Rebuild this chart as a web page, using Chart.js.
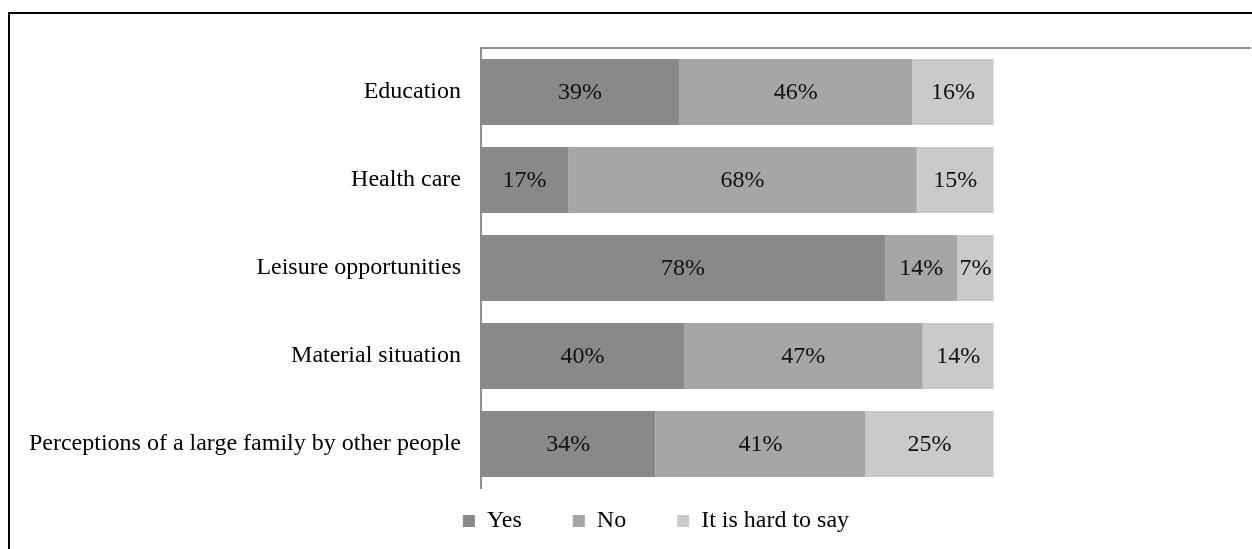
<!DOCTYPE html>
<html>
<head>
<meta charset="utf-8">
<script src="https://cdn.jsdelivr.net/npm/chart.js@4"></script>
<style>
  html, body { margin: 0; padding: 0; background: #fff; overflow: hidden; }
  #wrap { position: relative; width: 1252px; height: 549px; }
  #frame { position: absolute; left: 8px; top: 12px; width: 1300px; height: 600px;
           border: 2px solid #000; box-sizing: border-box; }
  canvas { position: absolute; left: 0; top: 0; }
</style>
</head>
<body>
<div id="wrap">
  <div id="frame"></div>
  <canvas id="chart" width="1252" height="549"></canvas>
</div>
<script>
  const categories = [
    'Education',
    'Health care',
    'Leisure opportunities',
    'Material situation',
    'Perceptions of a large family by other people'
  ];
  const yesValues = [39, 17, 78, 40, 34];
  const noValues = [46, 68, 14, 47, 41];
  const hardValues = [16, 15, 7, 14, 25];
  const seriesNames = ['Yes', 'No', 'It is hard to say'];

  // 100% stacked: share of each row total, labels keep the printed numbers
  const totals = categories.map((c, i) => yesValues[i] + noValues[i] + hardValues[i]);
  const share = arr => arr.map((v, i) => v / totals[i] * 100);

  const font = "'Liberation Serif', 'Times New Roman', serif";

  const barLabels = {
    id: 'barLabels',
    afterDatasetsDraw(chart) {
      const ctx = chart.ctx;
      ctx.save();
      ctx.font = '24px ' + font;
      ctx.fillStyle = '#111';
      ctx.textAlign = 'center';
      ctx.textBaseline = 'middle';
      chart.data.datasets.forEach((ds, di) => {
        const meta = chart.getDatasetMeta(di);
        meta.data.forEach((bar, i) => {
          const cx = (bar.x + bar.base) / 2;
          ctx.fillText(ds.raw[i] + '%', cx, bar.y + 1);
        });
      });
      ctx.restore();
    }
  };

  new Chart(document.getElementById('chart'), {
    type: 'bar',
    data: {
      labels: categories,
      datasets: [
        { label: seriesNames[0], data: share(yesValues), raw: yesValues, backgroundColor: '#898989' },
        { label: seriesNames[1], data: share(noValues), raw: noValues, backgroundColor: '#a6a6a6' },
        { label: seriesNames[2], data: share(hardValues), raw: hardValues, backgroundColor: '#cacaca' }
      ]
    },
    options: {
      indexAxis: 'y',
      responsive: false,
      animation: false,
      barPercentage: 1,
      categoryPercentage: 0.75,
      layout: { padding: { left: 62, right: 2, top: 48, bottom: 6 } },
      plugins: {
        legend: {
          position: 'bottom',
          labels: {
            font: { family: font, size: 24 },
            color: '#000',
            boxWidth: 12,
            boxHeight: 12,
            padding: 21,
            generateLabels(chart) {
              const items = Chart.defaults.plugins.legend.labels.generateLabels(chart);
              // extra gap after the first two entries
              items.forEach((it, i) => {
                if (i < items.length - 1) it.text += '\u00a0'.repeat(5);
              });
              return items;
            }
          }
        },
        tooltip: { enabled: false }
      },
      scales: {
        x: {
          stacked: true,
          position: 'top',
          min: 0,
          max: 150,
          grid: { display: false, drawTicks: false },
          border: { display: true, color: '#8c8c8c', width: 2 },
          ticks: { display: false }
        },
        y: {
          stacked: true,
          grid: { display: false, drawTicks: false },
          border: { display: true, color: '#8c8c8c', width: 2 },
          ticks: { font: { family: font, size: 24 }, color: '#000', padding: 20 },
          afterFit(axis) {
            axis.width = 419;
            // the long label runs past the axis box, don't clip it
            axis._computeLabelArea = () => undefined;
          }
        }
      }
    },
    plugins: [barLabels]
  });
</script>
</body>
</html>
